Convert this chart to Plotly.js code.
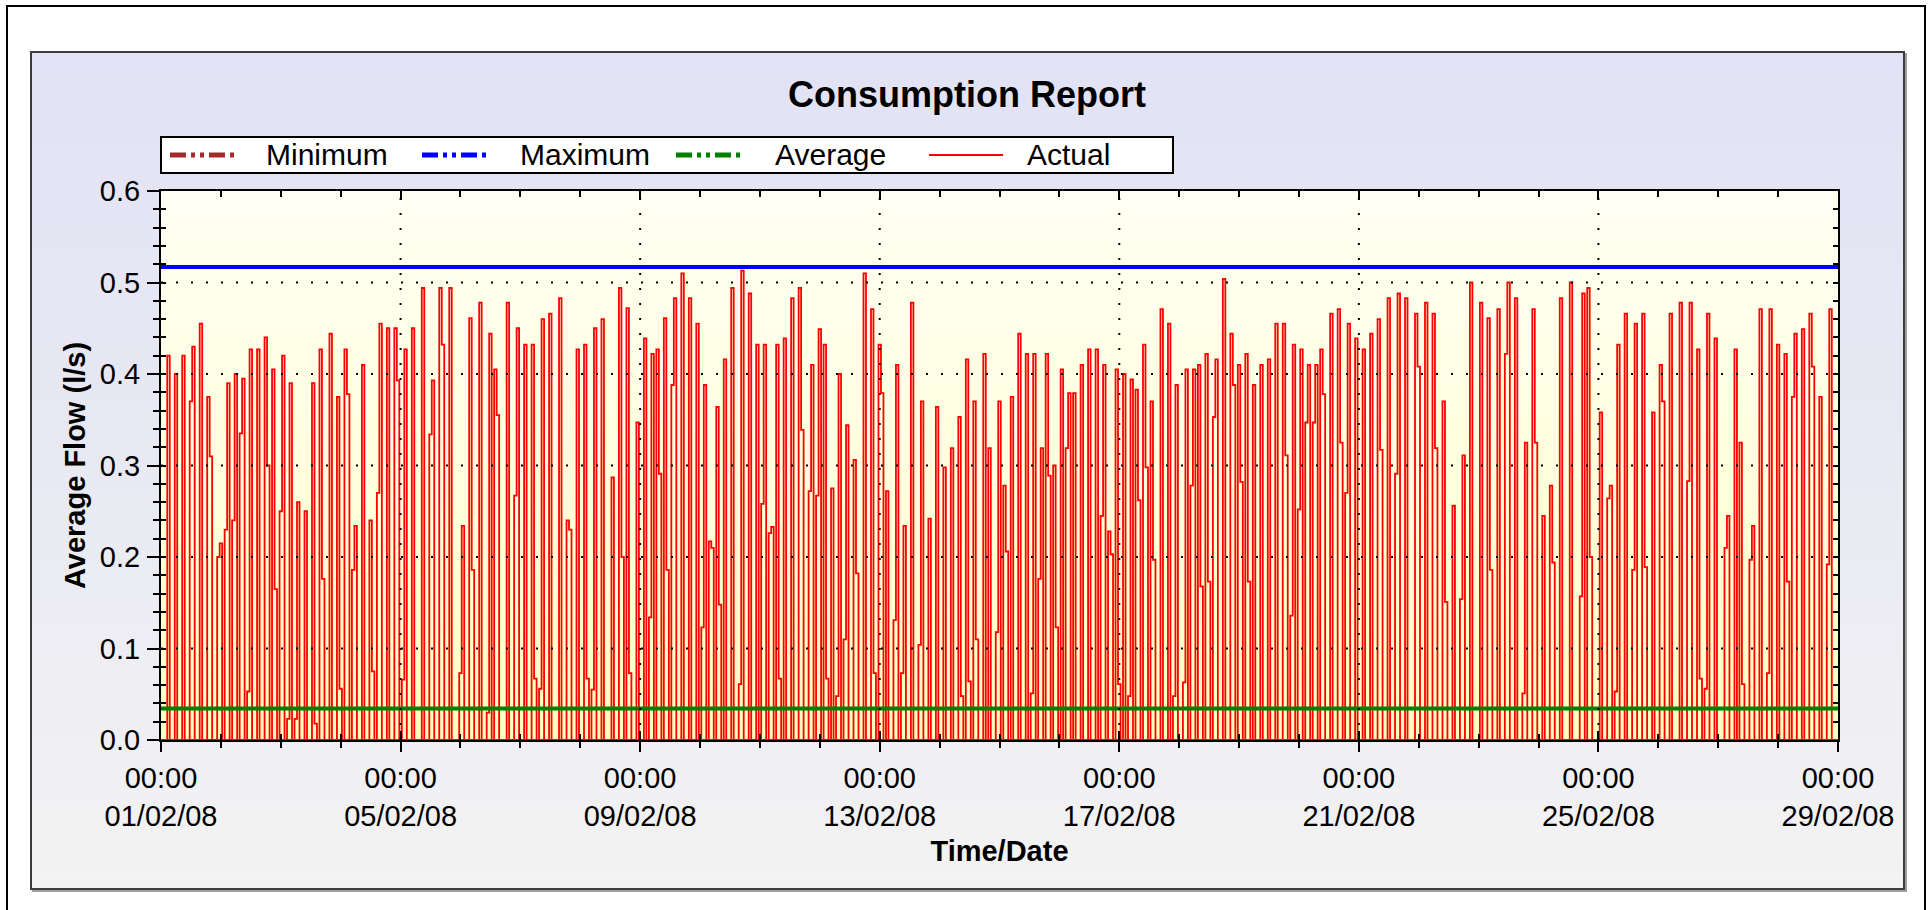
<!DOCTYPE html>
<html>
<head>
<meta charset="utf-8">
<script src="https://cdn.plot.ly/plotly-3.0.1.min.js"></script>
<style>
html,body{margin:0;padding:0;background:#fff;}
#wrap{position:relative;width:1930px;height:910px;overflow:hidden;background:#fff;}
#frame{position:absolute;left:6px;top:5px;width:1920px;height:930px;border:2px solid #000;box-sizing:border-box;}
#panel{position:absolute;left:30px;top:51px;width:1875px;height:839px;box-sizing:border-box;border:2px solid #3c3c3c;
  background:linear-gradient(to bottom,#e2e2f6 0%,#e9e9f3 50%,#f3f3f3 100%);box-shadow:2px 2px 0 #a0a0a0;}
#plotbg{position:absolute;left:161px;top:191px;width:1677px;height:549px;
  background:linear-gradient(to bottom,#fffff4 0%,#ffffdc 55%,#ffffc0 100%);}
#chart{position:absolute;left:0;top:0;width:1930px;height:910px;}
</style>
</head>
<body>
<div id="wrap">
  <div id="frame"></div>
  <div id="panel"></div>
  <div id="plotbg"></div>
  <div id="chart"></div>
</div>
<script>
// ---------------- DATA ----------------
// Hourly average flow (l/s), one array per day, hours 00:00 .. 23:00
const day01 = [0,0,0,0.42,0,0,0.40,0,0,0.42,0,0,0.37,0.43,0,0,0.455,0,0,0.375,0.31,0,0,0.20];
const day02 = [0.215,0,0.23,0.39,0,0.24,0.40,0,0.335,0.395,0,0.053,0.427,0,0,0.427,0,0,0.44,0.30,0,0.405,0.165,0];
const day03 = [0.25,0.42,0,0.023,0.39,0,0.023,0.26,0,0,0.25,0,0,0.39,0.018,0,0.427,0.176,0,0,0.444,0,0,0.375];
const day04 = [0.056,0,0.427,0.378,0,0.186,0.234,0,0,0.41,0,0,0.24,0.075,0,0.27,0.455,0,0,0.45,0,0,0.45,0.393];
const day05 = [0,0.066,0.427,0,0,0.45,0,0,0,0.494,0,0,0.334,0.393,0,0,0.494,0.432,0,0,0.494,0,0,0];
const day06 = [0.073,0.234,0,0,0.461,0.186,0,0,0.478,0,0,0.03,0.444,0,0.405,0.355,0,0,0,0.478,0,0,0.267,0.45];
const day07 = [0,0,0.432,0,0,0.432,0.067,0,0.056,0.46,0,0,0.466,0,0,0,0.483,0,0,0.24,0.23,0,0,0.427];
const day08 = [0,0,0.432,0.067,0,0.055,0.45,0,0,0.46,0,0,0,0.287,0,0,0.494,0.20,0,0.472,0.073,0,0,0.347];
const day09 = [0,0,0.439,0,0.134,0.422,0,0.427,0.291,0,0.461,0.186,0,0.388,0.483,0,0,0.51,0,0,0.483,0,0,0.455];
const day10 = [0,0.123,0.388,0,0.217,0.21,0,0.364,0.148,0,0.416,0,0,0.494,0,0,0.061,0.513,0,0,0.488,0,0,0.432];
const day11 = [0,0.258,0.432,0,0.226,0.233,0,0.432,0.067,0,0.439,0,0,0.483,0,0,0.494,0.339,0,0,0.272,0.41,0,0.267];
const day12 = [0.449,0,0.432,0.067,0,0.275,0,0.048,0.40,0,0.11,0.344,0,0,0.306,0.182,0,0,0.51,0,0,0.471,0.073,0];
const day13 = [0.432,0.379,0,0.272,0,0,0.131,0.41,0,0.073,0.234,0,0,0.478,0,0,0.104,0.37,0,0,0.242,0,0,0.364];
const day14 = [0,0,0.298,0,0,0.319,0,0,0.353,0.048,0,0.416,0.064,0,0.37,0.11,0,0,0.422,0,0.319,0,0,0.118];
const day15 = [0.37,0,0.278,0.206,0,0.375,0,0,0.444,0,0,0.422,0,0.051,0.422,0,0.176,0.319,0,0.422,0.289,0,0.30,0.123];
const day16 = [0,0.405,0,0.319,0.379,0,0.379,0,0,0.41,0,0,0.427,0,0,0.427,0,0.245,0.41,0,0.228,0.203,0,0.405];
const day17 = [0.061,0,0.40,0,0.048,0.394,0,0.383,0.262,0,0.432,0.298,0,0.37,0.197,0,0,0.471,0,0,0.455,0,0.048,0.388];
const day18 = [0,0,0.063,0.405,0,0.278,0.405,0,0.41,0.168,0,0.422,0.173,0,0.353,0.416,0,0,0.504,0,0,0.444,0.388,0];
const day19 = [0.41,0.282,0,0.422,0.173,0,0.388,0,0,0.41,0,0,0.416,0,0,0.455,0,0,0.455,0.311,0,0.136,0.432,0];
const day20 = [0.252,0.427,0,0.347,0.41,0,0.347,0.41,0,0.427,0.378,0,0,0.466,0,0,0.471,0.325,0,0.27,0.455,0,0,0.439];
const day21 = [0,0,0.427,0,0,0.444,0,0,0.46,0.317,0,0,0.483,0,0,0.291,0.488,0,0,0.483,0,0,0,0.466];
const day22 = [0.408,0,0,0.478,0,0,0.466,0.319,0,0,0.37,0.151,0,0,0.256,0,0,0.154,0.311,0,0,0.50,0,0];
const day23 = [0,0.478,0,0,0.461,0.186,0,0,0.471,0,0,0.422,0.50,0,0,0.483,0,0,0.051,0.325,0,0,0.471,0.325];
const day24 = [0,0,0.245,0,0,0.278,0.194,0,0,0.483,0,0,0,0.50,0,0,0,0.157,0.488,0,0.494,0.20,0,0];
const day25 = [0,0.358,0,0,0.264,0.278,0,0.053,0.432,0,0,0.466,0,0,0.186,0.455,0,0,0.466,0.189,0,0,0.358,0];
const day26 = [0,0.41,0.37,0,0,0.466,0,0,0,0.478,0,0,0.283,0.478,0,0,0.427,0.067,0,0.056,0.466,0,0,0.439];
const day27 = [0,0,0,0.21,0.245,0,0,0.427,0,0.325,0.061,0,0,0.197,0.234,0,0,0.471,0,0,0.073,0.471,0,0];
const day28 = [0.432,0,0,0.422,0.173,0,0.375,0.444,0,0,0.449,0,0,0.466,0.408,0,0,0.375,0,0,0.192,0.471,0,0];

const minimumFlow = 0.0;
const maximumFlow = 0.517;
const averageFlow = 0.0345;

const periodStart = '2008-02-01 00:00';
const periodEnd   = '2008-02-29 00:00';

const xTickDates  = ['2008-02-01','2008-02-05','2008-02-09','2008-02-13','2008-02-17','2008-02-21','2008-02-25','2008-02-29'];
const xTickLabels = ['00:00<br>01/02/08','00:00<br>05/02/08','00:00<br>09/02/08','00:00<br>13/02/08',
                     '00:00<br>17/02/08','00:00<br>21/02/08','00:00<br>25/02/08','00:00<br>29/02/08'];
const yTickValues = [0,0.1,0.2,0.3,0.4,0.5,0.6];
const yTickLabels = ['0.0','0.1','0.2','0.3','0.4','0.5','0.6'];

const legendNames  = ['Minimum','Maximum','Average','Actual'];
const seriesColors = ['#a52a2a','#0000ff','#008000','#ff0000'];

// ---------------- BUILD ----------------
const dailyFlows = [day01,day02,day03,day04,day05,day06,day07,day08,day09,day10,day11,day12,day13,day14,
                    day15,day16,day17,day18,day19,day20,day21,day22,day23,day24,day25,day26,day27,day28];
const actualFlow = [].concat(...dailyFlows);
const t0 = Date.UTC(2008,1,1,0,0);
function stamp(ms){ return new Date(ms).toISOString().slice(0,16).replace('T',' '); }
const actualTimes = actualFlow.map((_, i) => stamp(t0 + i*3600000));

const FONT = 'Liberation Sans, Arial, Helvetica, sans-serif';

// plot-area pixel frame (for legend placement in paper coords)
const PL = 161, PR = 1838, PT = 191, PB = 740;
const px = p => (p - PL) / (PR - PL);
const py = p => (PB - p) / (PB - PT);

const traces = [
  {x: actualTimes, y: actualFlow, type:'scatter', mode:'lines', name: legendNames[3],
   line:{color: seriesColors[3], width:1.8, shape:'hvh'}, showlegend:false, xaxis:'x', yaxis:'y'},
  {x: [periodStart, periodEnd], y: [minimumFlow, minimumFlow], type:'scatter', mode:'lines', name: legendNames[0],
   line:{color: seriesColors[0], width:2}, showlegend:false, xaxis:'x2', yaxis:'y2'},
  {x: [periodStart, periodEnd], y: [maximumFlow, maximumFlow], type:'scatter', mode:'lines', name: legendNames[1],
   line:{color: seriesColors[1], width:4}, showlegend:false, xaxis:'x2', yaxis:'y2'},
  {x: [periodStart, periodEnd], y: [averageFlow, averageFlow], type:'scatter', mode:'lines', name: legendNames[2],
   line:{color: seriesColors[2], width:4}, showlegend:false, xaxis:'x2', yaxis:'y2'}
];

// dotted grid drawn above the data (as in the original chart)
const shapes = [];
yTickValues.slice(1, -1).forEach(v => shapes.push({
  type:'line', xref:'x', yref:'y', x0: periodStart, x1: periodEnd, y0: v, y1: v,
  line:{color:'#000', width:2, dash:'2px,13px'}, layer:'above'}));
xTickDates.slice(1, -1).forEach(d => shapes.push({
  type:'line', xref:'x', yref:'y', x0: d, x1: d, y0: 0, y1: 0.6,
  line:{color:'#000', width:2, dash:'2px,13px'}, layer:'above'}));

// legend box
shapes.push({type:'rect', xref:'paper', yref:'paper', x0: px(161), x1: px(1173), y0: py(173), y1: py(137),
  fillcolor:'#ffffff', line:{color:'#000', width:2}, layer:'above'});
const sampleX  = [[170,234],[422,488],[676,743],[929,1003]];
const textX    = [264, 518, 773, 1025];
const sampleDash = ['16px,5px,4px,5px,4px,5px','16px,5px,4px,5px,4px,5px','16px,5px,4px,5px,4px,5px','solid'];
const sampleW  = [5,5,5,2];
const annotations = [];
legendNames.forEach((n, i) => {
  shapes.push({type:'line', xref:'paper', yref:'paper', x0: px(sampleX[i][0]), x1: px(sampleX[i][1]),
    y0: py(155), y1: py(155), line:{color: seriesColors[i], width: sampleW[i], dash: sampleDash[i]}, layer:'above'});
  annotations.push({xref:'paper', yref:'paper', x: px(textX[i]), y: py(155), xanchor:'left', yanchor:'middle',
    text: n, showarrow:false, font:{family: FONT, size:30, color:'#000'}});
});

const layout = {
  width:1930, height:910,
  margin:{l:PL, r:1930-PR, t:PT, b:910-PB, pad:0},
  paper_bgcolor:'rgba(0,0,0,0)', plot_bgcolor:'rgba(0,0,0,0)',
  font:{family: FONT, color:'#000'},
  showlegend:false,
  title:{text:'<b>Consumption Report</b>', font:{family: FONT, size:36, color:'#000'},
         xref:'container', yref:'container', x: 967/1930, y: 1 - 94/910, xanchor:'center', yanchor:'middle'},
  xaxis:{type:'date', range:[periodStart, periodEnd], tickmode:'array', tickvals: xTickDates, ticktext: xTickLabels,
    ticks:'outside', ticklen:10, tickwidth:2, tickcolor:'#000',
    minor:{ticks:'outside', ticklen:6, tickwidth:2, tickcolor:'#000', tickmode:'linear', tick0:'2008-02-01', dtick:86400000, showgrid:false},
    showline:true, linecolor:'#000', linewidth:2, mirror:true, showgrid:false, zeroline:false,
    tickfont:{family: FONT, size:29, color:'#000'}, ticklabelstandoff:1,
    title:{text:'<b>Time/Date</b>', font:{family: FONT, size:29, color:'#000'}, standoff:10}},
  xaxis2:{type:'date', range:[periodStart, periodEnd], overlaying:'x', anchor:'y2', side:'bottom',
    tickmode:'array', tickvals: xTickDates, ticks:'inside', ticklen:9, tickwidth:2, tickcolor:'#000',
    minor:{ticks:'inside', ticklen:6, tickwidth:2, tickcolor:'#000', tickmode:'linear', tick0:'2008-02-01', dtick:86400000, showgrid:false},
    mirror:'allticks', showline:true, linecolor:'#000', linewidth:2, showticklabels:false, showgrid:false, zeroline:false},
  yaxis:{range:[0,0.6], tickmode:'array', tickvals: yTickValues, ticktext: yTickLabels,
    ticks:'outside', ticklen:12, tickwidth:2, tickcolor:'#000',
    minor:{ticks:'outside', ticklen:6, tickwidth:2, tickcolor:'#000', tickmode:'linear', tick0:0, dtick:0.02, showgrid:false},
    showline:true, linecolor:'#000', linewidth:2, mirror:true, showgrid:false, zeroline:false,
    tickfont:{family: FONT, size:29, color:'#000'}, ticklabelstandoff:1,
    title:{text:'<b>Average Flow (l/s)</b>', font:{family: FONT, size:29, color:'#000'}, standoff:6}},
  yaxis2:{range:[0,0.6], overlaying:'y', anchor:'x2', side:'left',
    tickmode:'array', tickvals: yTickValues, ticks:'inside', ticklen:5, tickwidth:2, tickcolor:'#000',
    minor:{ticks:'inside', ticklen:5, tickwidth:2, tickcolor:'#000', tickmode:'linear', tick0:0, dtick:0.02, showgrid:false},
    mirror:'allticks', showline:true, linecolor:'#000', linewidth:2, showticklabels:false, showgrid:false, zeroline:false},
  shapes: shapes,
  annotations: annotations
};

Plotly.newPlot('chart', traces, layout, {displayModeBar:false, staticPlot:true});
</script>
</body>
</html>
